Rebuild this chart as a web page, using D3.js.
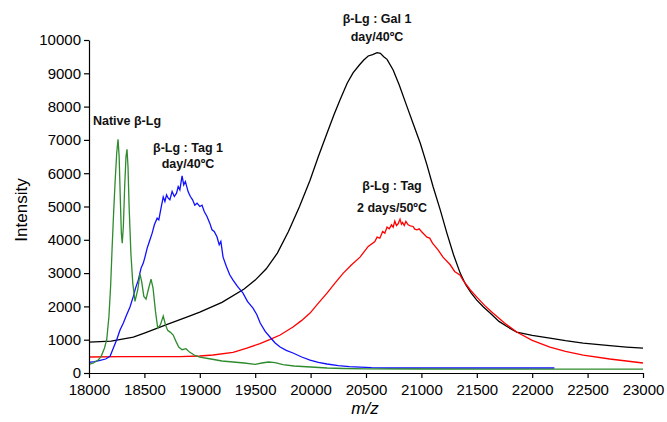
<!DOCTYPE html>
<html lang="en">
<head>
    <meta charset="UTF-8">
    <title>MALDI spectra</title>
    <script src="https://d3js.org/d3.v7.min.js"></script>
    <style>
        body { margin: 0; background: #fff; }
        text { font-family: Arial, "Liberation Sans", sans-serif; }
    </style>
</head>
<body>
    <svg></svg>

    <script>
        const w = 667;
        const h = 422;

        const xTicks = [18000, 18500, 19000, 19500, 20000, 20500, 21000, 21500, 22000, 22500, 23000];
        const yTicks = [0, 1000, 2000, 3000, 4000, 5000, 6000, 7000, 8000, 9000, 10000];

        // [m/z, intensity]
        const nativeLg = [[18000,260],[18040,300],[18080,380],[18110,500],[18140,750],[18160,1000],[18180,1700],
            [18195,2600],[18208,3700],[18222,4800],[18235,5700],[18250,6600],[18262,7020],[18272,6500],[18282,5300],
            [18292,4200],[18300,3900],[18310,4400],[18322,5600],[18334,6500],[18343,6720],[18352,6200],[18362,5000],
            [18378,3600],[18395,2700],[18415,2150],[18440,2500],[18460,2970],[18475,2750],[18495,2300],[18515,2220],
            [18535,2500],[18560,2820],[18578,2550],[18600,1850],[18620,1350],[18645,1450],[18670,1710],[18690,1450],
            [18710,1280],[18735,1220],[18760,1140],[18785,950],[18810,780],[18840,700],[18875,730],[18910,620],
            [18950,540],[19000,480],[19100,420],[19200,360],[19300,330],[19400,300],[19500,260],[19560,300],
            [19620,330],[19680,310],[19750,250],[19850,210],[20000,180],[20150,150],[20300,135],[20500,125],
            [21000,120],[21500,118],[22000,118],[22500,118],[23000,118]];

        const tag1Day = [[18000,320],[18050,340],[18100,380],[18150,420],[18190,500],[18220,750],[18250,1000],
            [18280,1290],[18310,1500],[18340,1750],[18370,1980],[18400,2300],[18420,2550],[18445,2790],[18470,3150],
            [18490,3300],[18505,3480],[18525,3750],[18545,3950],[18570,4200],[18590,4450],[18615,4650],[18630,4600],
            [18650,4950],[18670,5290],[18685,5150],[18700,5350],[18715,5250],[18730,5200],[18750,5450],[18770,5300],
            [18790,5400],[18805,5600],[18820,5500],[18840,5920],[18855,5650],[18870,5750],[18895,5440],[18915,5300],
            [18935,5200],[18955,5040],[18975,5100],[19000,5000],[19020,5040],[19040,4850],[19065,4700],[19090,4500],
            [19110,4300],[19130,4250],[19155,4090],[19175,3850],[19190,3950],[19210,3480],[19240,3200],[19270,2950],
            [19300,2790],[19340,2600],[19390,2400],[19430,2150],[19480,1950],[19515,1750],[19545,1500],[19590,1250],
            [19633,1080],[19680,900],[19725,780],[19780,680],[19841,600],[19920,480],[19995,390],[20070,320],
            [20148,270],[20250,220],[20350,190],[20446,175],[20550,160],[20700,150],[21000,150],[21500,150],
            [22000,150],[22200,150]];

        const gal1Day = [[18000,930],[18200,960],[18400,1080],[18500,1200],[18700,1450],[18900,1700],[19000,1830],
            [19200,2120],[19400,2520],[19500,2790],[19600,3130],[19700,3600],[19800,4250],[19900,5000],
            [19995,5790],[20070,6500],[20148,7200],[20210,7750],[20265,8200],[20330,8700],[20383,9010],[20440,9250],
            [20480,9400],[20520,9520],[20560,9560],[20600,9620],[20630,9600],[20660,9500],[20690,9420],[20745,9100],
            [20800,8650],[20870,8000],[20930,7450],[20990,6900],[21050,6250],[21105,5600],[21170,4900],[21230,4200],
            [21290,3550],[21350,3000],[21400,2650],[21450,2400],[21500,2190],[21560,1980],[21620,1800],[21700,1550],
            [21780,1380],[21860,1230],[22000,1130],[22160,1050],[22300,970],[22460,900],[22700,820],[22850,780],
            [23000,750]];

        const tag2Days = [[18000,480],[18300,490],[18600,490],[18820,490],[19000,510],[19120,540],[19300,620],
            [19425,750],[19543,880],[19630,1000],[19725,1140],[19841,1380],[19920,1580],[19995,1800],[20070,2100],
            [20148,2400],[20220,2700],[20295,3000],[20370,3250],[20446,3480],[20520,3800],[20580,3950],[20600,4080],
            [20625,4050],[20650,4250],[20670,4200],[20690,4380],[20710,4330],[20730,4450],[20745,4380],[20760,4560],
            [20775,4430],[20790,4480],[20807,4620],[20820,4470],[20830,4520],[20845,4430],[20860,4550],[20880,4450],
            [20900,4420],[20925,4400],[20940,4320],[20960,4300],[20980,4330],[21000,4250],[21050,4080],[21075,4050],
            [21100,3900],[21150,3700],[21195,3480],[21260,3250],[21300,3050],[21350,2940],[21375,2790],[21440,2500],
            [21500,2280],[21570,2030],[21645,1800],[21750,1500],[21860,1230],[22000,980],[22160,780],[22300,650],
            [22460,540],[22700,420],[22850,360],[23000,300]];

        const series = [
            { name: "gal1Day", data: gal1Day, color: "#000000" },
            { name: "tag2Days", data: tag2Days, color: "#ff0000" },
            { name: "tag1Day", data: tag1Day, color: "#1010ff" },
            { name: "nativeLg", data: nativeLg, color: "#2e8b2e" }
        ];

        const svg = d3.select("svg")
            .attr("width", w)
            .attr("height", h);

        const x = d3.scaleLinear().domain([18000, 23000]).range([89, 643]);
        const y = d3.scaleLinear().domain([0, 10000]).range([373, 40]);

        const line = d3.line()
            .x(d => x(d[0]))
            .y(d => y(d[1]));

        svg.selectAll("path.spec")
            .data(series)
            .enter()
            .append("path")
                .attr("class", "spec")
                .attr("d", d => line(d.data))
                .attr("fill", "none")
                .attr("stroke", d => d.color)
                .attr("stroke-width", 1.3);

        const xAxis = svg.append("g")
            .attr("transform", `translate(0, ${y(0)})`)
            .call(d3.axisBottom(x).tickValues(xTicks).tickSize(5).tickSizeOuter(0).tickFormat(d3.format("d")));
        xAxis.selectAll("text").attr("font-size", 15).attr("fill", "#000").attr("dy", "0.9em");

        const yAxis = svg.append("g")
            .attr("transform", `translate(${x(18000)}, 0)`)
            .call(d3.axisLeft(y).tickValues(yTicks).tickSize(5).tickSizeOuter(0).tickFormat(d3.format("d")));
        yAxis.selectAll("text").attr("font-size", 15).attr("fill", "#000");

        svg.selectAll(".domain, .tick line").attr("stroke", "#000").attr("stroke-width", 1.2);

        svg.append("text")
            .attr("transform", "translate(27, 210) rotate(-90)")
            .attr("text-anchor", "middle")
            .attr("font-size", 17)
            .text("Intensity");

        svg.append("text")
            .attr("x", 365)
            .attr("y", 414)
            .attr("text-anchor", "middle")
            .attr("font-size", 17)
            .attr("font-style", "italic")
            .text("m/z");

        const labels = [
            { lines: ["Native β-Lg"], x: 127, y: 125, gap: 0 },
            { lines: ["β-Lg : Tag 1", "day/40ºC"], x: 188, y: 152, gap: 16 },
            { lines: ["β-Lg : Gal 1", "day/40ºC"], x: 377, y: 23, gap: 18 },
            { lines: ["β-Lg : Tag", "2 days/50ºC"], x: 392, y: 190, gap: 22 }
        ];

        labels.forEach(l => {
            const t = svg.append("text")
                .attr("text-anchor", "middle")
                .attr("font-size", 12.5)
                .attr("font-weight", "bold")
                .attr("fill", "#111");
            l.lines.forEach((s, i) => {
                t.append("tspan")
                    .attr("x", l.x)
                    .attr("y", l.y + i * l.gap)
                    .text(s);
            });
        });
    </script>
</body>
</html>
